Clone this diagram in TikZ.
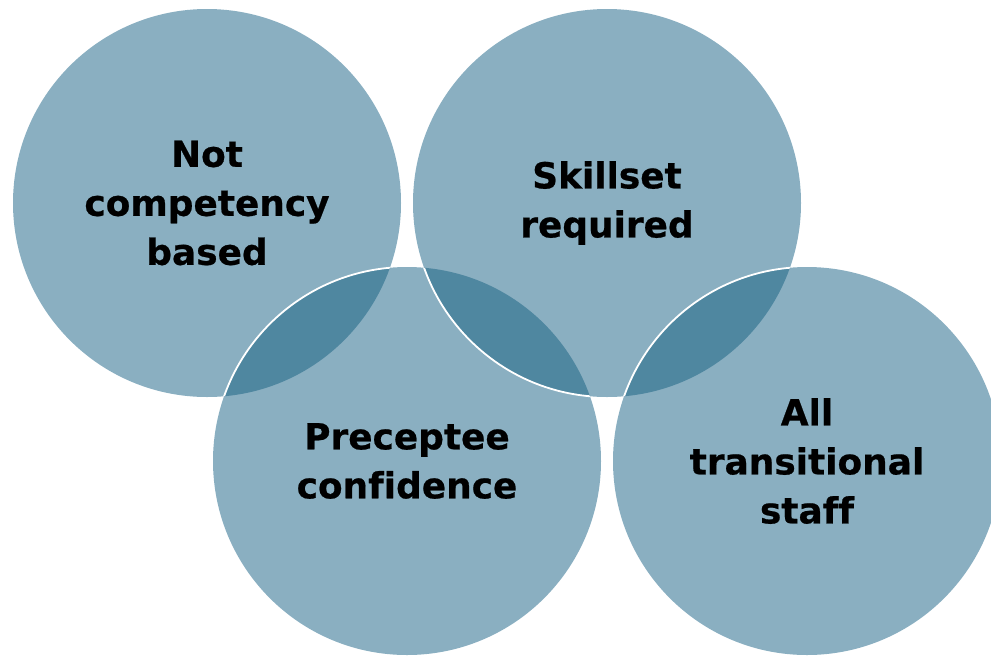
\documentclass[tikz,border=0pt]{standalone}
\usepackage{fontspec}
\usepackage{xcolor}
\usepackage{tikz}
\newfontfamily\vennfont{DejaVu Sans}[Ligatures=NoCommon, BoldFeatures={FakeBold=0.6}]
\definecolor{vennlight}{HTML}{8AAFC1}
\definecolor{venndark}{HTML}{4F87A0}

\begin{document}
\begin{tikzpicture}[x=1pt, y=-1pt,
    venn/.style={circle, fill=vennlight, minimum size=388pt, inner sep=0pt,
      outer sep=0pt, align=center, text=black,
      font=\vennfont\bfseries\fontsize{35.9}{49}\selectfont},
    rim/.style={draw=white, line width=1.8pt}]
      \useasboundingbox (0,0) rectangle (991,657);
      \clip (0,0) rectangle (991,657);
      \node[venn] (notcomp) at (207,203) {Not\\competency\\based};
      \node[venn] (precep) at (407,461) {Preceptee\\confidence};
      \node[venn] (skill) at (607,203) {Skillset\\required};
      \node[venn] (staff) at (807,461) {All\\transitional\\staff};
      % overlaps
      \begin{scope}
        \clip (notcomp.center) circle (194);
        \fill[venndark] (precep.center) circle (194);
        \draw[rim] (precep.center) circle (194);
      \end{scope}
      \begin{scope}
        \clip (precep.center) circle (194);
        \fill[venndark] (skill.center) circle (194);
        \draw[rim] (skill.center) circle (194);
      \end{scope}
      \begin{scope}
        \clip (skill.center) circle (194);
        \fill[venndark] (staff.center) circle (194);
        \draw[rim] (staff.center) circle (194);
      \end{scope}
    \end{tikzpicture}
\end{document}
